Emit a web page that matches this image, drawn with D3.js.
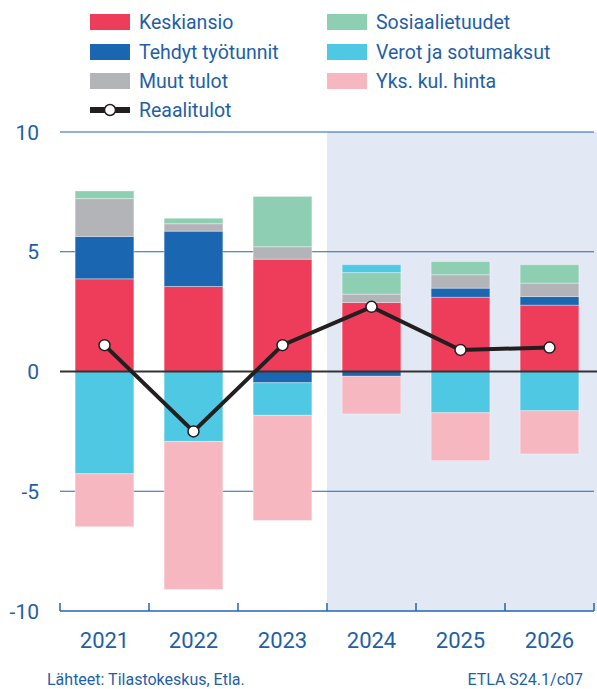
<!DOCTYPE html>
<html>
<head>
<meta charset="utf-8">
<script src="https://cdn.jsdelivr.net/npm/d3@7"></script>
<style>
  body { margin: 0; background: #fff; }
  text { font-family: Roboto, "Liberation Sans", sans-serif; fill: #1f5fa8; }
</style>
</head>
<body>
<div id="chart"></div>
<script>
const years = ['2021', '2022', '2023', '2024', '2025', '2026']

// contributions, percentage points
const keskiansio = [3.87, 3.55, 4.69, 2.88, 3.10, 2.77]
const tehdytTyotunnit = [1.77, 2.31, -0.47, -0.20, 0.38, 0.36]
const muutTulot = [1.58, 0.31, 0.52, 0.35, 0.56, 0.56]
const sosiaalietuudet = [0.32, 0.23, 2.10, 0.90, 0.55, 0.77]
const verotJaSotumaksut = [-4.27, -2.92, -1.36, 0.33, -1.72, -1.64]
const yksKulHinta = [-2.21, -6.18, -4.39, -1.57, -2.00, -1.80]
const reaalitulot = [1.1, -2.5, 1.1, 2.7, 0.9, 1.0]

const yTicks = [-10, -5, 0, 5, 10]

const series = [
  { key: 'Keskiansio', values: keskiansio, color: '#ee3d5a' },
  { key: 'Tehdyt työtunnit', values: tehdytTyotunnit, color: '#1a66b0' },
  { key: 'Muut tulot', values: muutTulot, color: '#b3b4b8' },
  { key: 'Sosiaalietuudet', values: sosiaalietuudet, color: '#8ecfb3' },
  { key: 'Verot ja sotumaksut', values: verotJaSotumaksut, color: '#4fc8e4' },
  { key: 'Yks. kul. hinta', values: yksKulHinta, color: '#f7b7c0' }
]

const width = 597, height = 689
const margin = { left: 60, right: 3, top: 132, bottom: 78 }

const svg = d3.select('#chart').append('svg')
  .attr('width', width)
  .attr('height', height)

const x = d3.scaleBand()
  .domain(years)
  .range([margin.left, width - margin.right])
  .paddingInner(0.34)
  .paddingOuter(0.17)

const y = d3.scaleLinear()
  .domain([-10, 10])
  .range([height - margin.bottom, margin.top])

// forecast shading
const shadeX = x('2024') - x.step() * x.paddingInner() / 2
svg.append('rect')
  .attr('x', shadeX)
  .attr('y', y(10))
  .attr('width', width - shadeX)
  .attr('height', y(-10) - y(10))
  .attr('fill', '#e3e9f4')

// grid lines
svg.append('g')
  .selectAll('line')
  .data(yTicks.filter(d => d !== 0 && d !== -10))
  .join('line')
  .attr('x1', margin.left)
  .attr('x2', width - margin.right)
  .attr('y1', d => y(d))
  .attr('y2', d => y(d))
  .attr('stroke', '#1f66b0')
  .attr('stroke-width', 1)

// y labels
svg.append('g')
  .selectAll('text')
  .data(yTicks)
  .join('text')
  .attr('x', 39)
  .attr('y', d => y(d))
  .attr('dy', '0.36em')
  .attr('text-anchor', 'end')
  .style('font-size', '21px')
  .text(d => d)

// stacked bars
const table = years.map((yr, i) => {
  const row = { year: yr }
  series.forEach(s => { row[s.key] = s.values[i] })
  return row
})

const stack = d3.stack()
  .keys(series.map(s => s.key))
  .offset(d3.stackOffsetDiverging)(table)

svg.append('g')
  .selectAll('g')
  .data(stack)
  .join('g')
  .attr('fill', (d, i) => series[i].color)
  .selectAll('rect')
  .data(d => d)
  .join('rect')
  .attr('x', d => x(d.data.year))
  .attr('width', x.bandwidth())
  .attr('y', d => y(d[1]))
  .attr('height', d => Math.abs(y(d[0]) - y(d[1])))
  .attr('stroke', 'rgba(255,255,255,0.35)')
  .attr('stroke-width', 1)

// zero line
svg.append('line')
  .attr('x1', margin.left)
  .attr('x2', width)
  .attr('y1', y(0))
  .attr('y2', y(0))
  .attr('stroke', '#333')
  .attr('stroke-width', 2)

// bottom axis
const axisY = y(-10)
svg.append('line')
  .attr('x1', margin.left)
  .attr('x2', width - margin.right)
  .attr('y1', axisY)
  .attr('y2', axisY)
  .attr('stroke', '#1f66b0')
  .attr('stroke-width', 1.5)

const tickXs = years.map(yr => x(yr) - x.step() * x.paddingInner() / 2)
  .concat([x(years[years.length - 1]) + x.bandwidth() + x.step() * x.paddingInner() / 2])
svg.append('g')
  .selectAll('line')
  .data(tickXs)
  .join('line')
  .attr('x1', d => d)
  .attr('x2', d => d)
  .attr('y1', axisY)
  .attr('y2', axisY - 8)
  .attr('stroke', '#1f66b0')
  .attr('stroke-width', 1.5)

svg.append('g')
  .selectAll('text')
  .data(years)
  .join('text')
  .attr('x', d => x(d) + x.bandwidth() / 2)
  .attr('y', 648)
  .attr('text-anchor', 'middle')
  .style('font-size', '22px')
  .text(d => d)

// line
const cx = (d, i) => x(years[i]) + x.bandwidth() / 2
svg.append('path')
  .datum(reaalitulot)
  .attr('fill', 'none')
  .attr('stroke', '#231f20')
  .attr('stroke-width', 4)
  .attr('d', d3.line().x(cx).y(d => y(d)))

svg.append('g')
  .selectAll('circle')
  .data(reaalitulot)
  .join('circle')
  .attr('cx', cx)
  .attr('cy', d => y(d))
  .attr('r', 5.5)
  .attr('fill', '#fff')
  .attr('stroke', '#231f20')
  .attr('stroke-width', 1.5)

// legend
const legendRows = [22, 52, 81]
const legend = svg.append('g')
series.forEach((s, i) => {
  const col = i < 3 ? 0 : 1
  const row = i % 3
  const lx = col === 0 ? 90 : 327
  const g = legend.append('g').attr('transform', `translate(${lx}, ${legendRows[row]})`)
  g.append('rect')
    .attr('x', 0).attr('y', -8)
    .attr('width', 40).attr('height', 16)
    .attr('fill', s.color)
  g.append('text')
    .attr('x', 49).attr('y', 0)
    .attr('dy', '0.36em')
    .style('font-size', '19.5px')
    .text(s.key)
})
const lg = legend.append('g').attr('transform', 'translate(90, 110)')
lg.append('line')
  .attr('x1', 0).attr('x2', 40)
  .attr('stroke', '#231f20').attr('stroke-width', 6)
lg.append('circle')
  .attr('cx', 20).attr('r', 5.5)
  .attr('fill', '#fff').attr('stroke', '#231f20').attr('stroke-width', 1.5)
lg.append('text')
  .attr('x', 49).attr('dy', '0.36em')
  .style('font-size', '19.5px')
  .text('Reaalitulot')

// footer
svg.append('text')
  .attr('x', 47).attr('y', 685)
  .style('font-size', '16px')
  .text('Lähteet: Tilastokeskus, Etla.')
svg.append('text')
  .attr('x', 583).attr('y', 685)
  .attr('text-anchor', 'end')
  .style('font-size', '16px')
  .text('ETLA S24.1/c07')
</script>
</body>
</html>
